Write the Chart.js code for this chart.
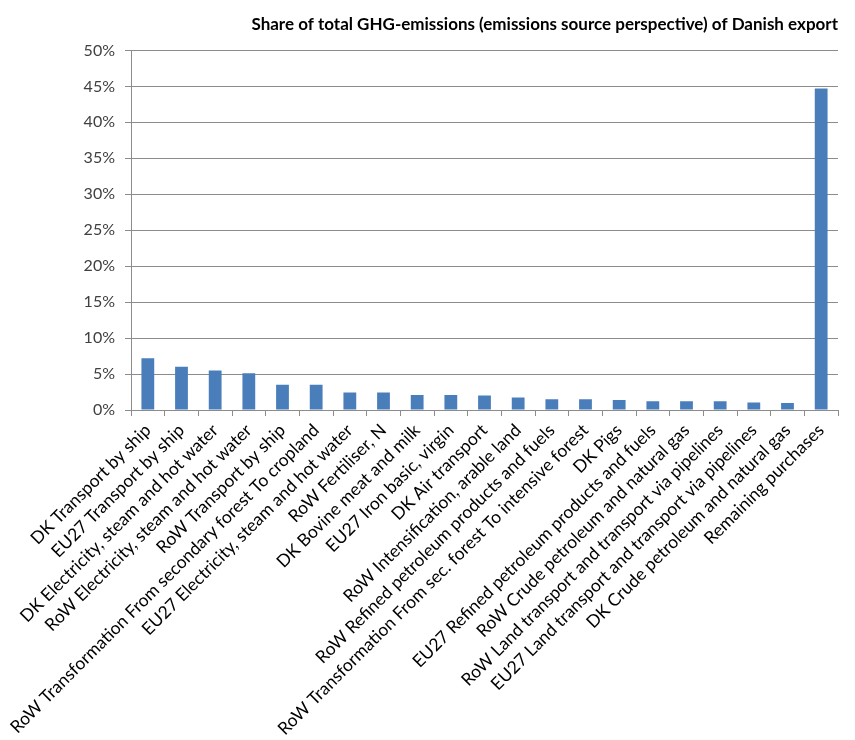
<!DOCTYPE html>
<html>
<head>
<meta charset="utf-8">
<script src="https://cdn.jsdelivr.net/npm/chart.js@4"></script>
<style>
  body { margin: 0; background: #fff; }
</style>
</head>
<body>
<canvas id="chart-bar" width="855" height="740"></canvas>
<script>
// categories (emission sources), left to right
const sources = [
  "DK Transport by ship",
  "EU27 Transport by ship",
  "DK Electricity, steam and hot water",
  "RoW Electricity, steam and hot water",
  "RoW Transport by ship",
  "RoW Transformation From secondary forest To cropland",
  "EU27 Electricity, steam and hot water",
  "RoW Fertiliser, N",
  "DK Bovine meat and milk",
  "EU27 Iron basic, virgin",
  "DK Air transport",
  "RoW Intensification, arable land",
  "RoW Refined petroleum products and fuels",
  "RoW Transformation From sec. forest To intensive forest",
  "DK Pigs",
  "EU27 Refined petroleum products and fuels",
  "RoW Crude petroleum and natural gas",
  "RoW Land transport and transport via pipelines",
  "EU27 Land transport and transport via pipelines",
  "DK Crude petroleum and natural gas",
  "Remaining purchases"
];

// share of total GHG-emissions, in %
const shareValues = [
  7.2, 6.0, 5.5, 5.1, 3.5, 3.5, 2.45, 2.45, 2.1, 2.1,
  2.0, 1.75, 1.5, 1.5, 1.4, 1.2, 1.2, 1.2, 1.05, 0.97,
  44.7
];

const yMin = 0;
const yMax = 50;
const yStep = 5;

const gridColor = "#8c8c8c";
const fontName = "Lato, 'Open Sans', sans-serif";

var ctx = document.getElementById("chart-bar");
var myBarChart = new Chart(ctx, {
  type: "bar",
  data: {
    labels: sources,
    datasets: [
      {
        data: shareValues,
        label: "Share",
        backgroundColor: "#4a7ebb",
        borderWidth: 0,
        categoryPercentage: 0.38,
        barPercentage: 1.0,
      },
    ],
  },
  options: {
    responsive: false,
    animation: false,
    devicePixelRatio: 1,
    layout: {
      padding: { top: 4, left: 0, right: 17, bottom: 0 },
    },
    plugins: {
      legend: { display: false },
      tooltip: { enabled: false },
      title: {
        display: true,
        text: "Share of total GHG-emissions (emissions source perspective) of Danish export",
        align: "end",
        color: "#000",
        font: { family: fontName, size: 17, weight: "bold" },
        padding: { top: 10, bottom: 16 },
      },
    },
    scales: {
      x: {
        grid: {
          display: true,
          drawOnChartArea: false,
          drawTicks: true,
          tickLength: 6,
          color: gridColor,
          offset: true,
        },
        border: { display: true, color: gridColor },
        ticks: {
          autoSkip: false,
          minRotation: 45,
          maxRotation: 45,
          padding: 4,
          color: "#000",
          font: { family: fontName, size: 17.5 },
        },
        afterFit: function (scale) {
          scale.height = 330;
        },
      },
      y: {
        min: yMin,
        max: yMax,
        grid: {
          color: gridColor,
          tickLength: 6,
        },
        border: { display: true, color: gridColor },
        ticks: {
          stepSize: yStep,
          padding: 10,
          color: "#404040",
          font: { family: fontName, size: 16 },
          callback: function (value) {
            return value + "%";
          },
        },
        afterFit: function (scale) {
          scale.width = 131;
        },
      },
    },
  },
});
</script>
</body>
</html>
